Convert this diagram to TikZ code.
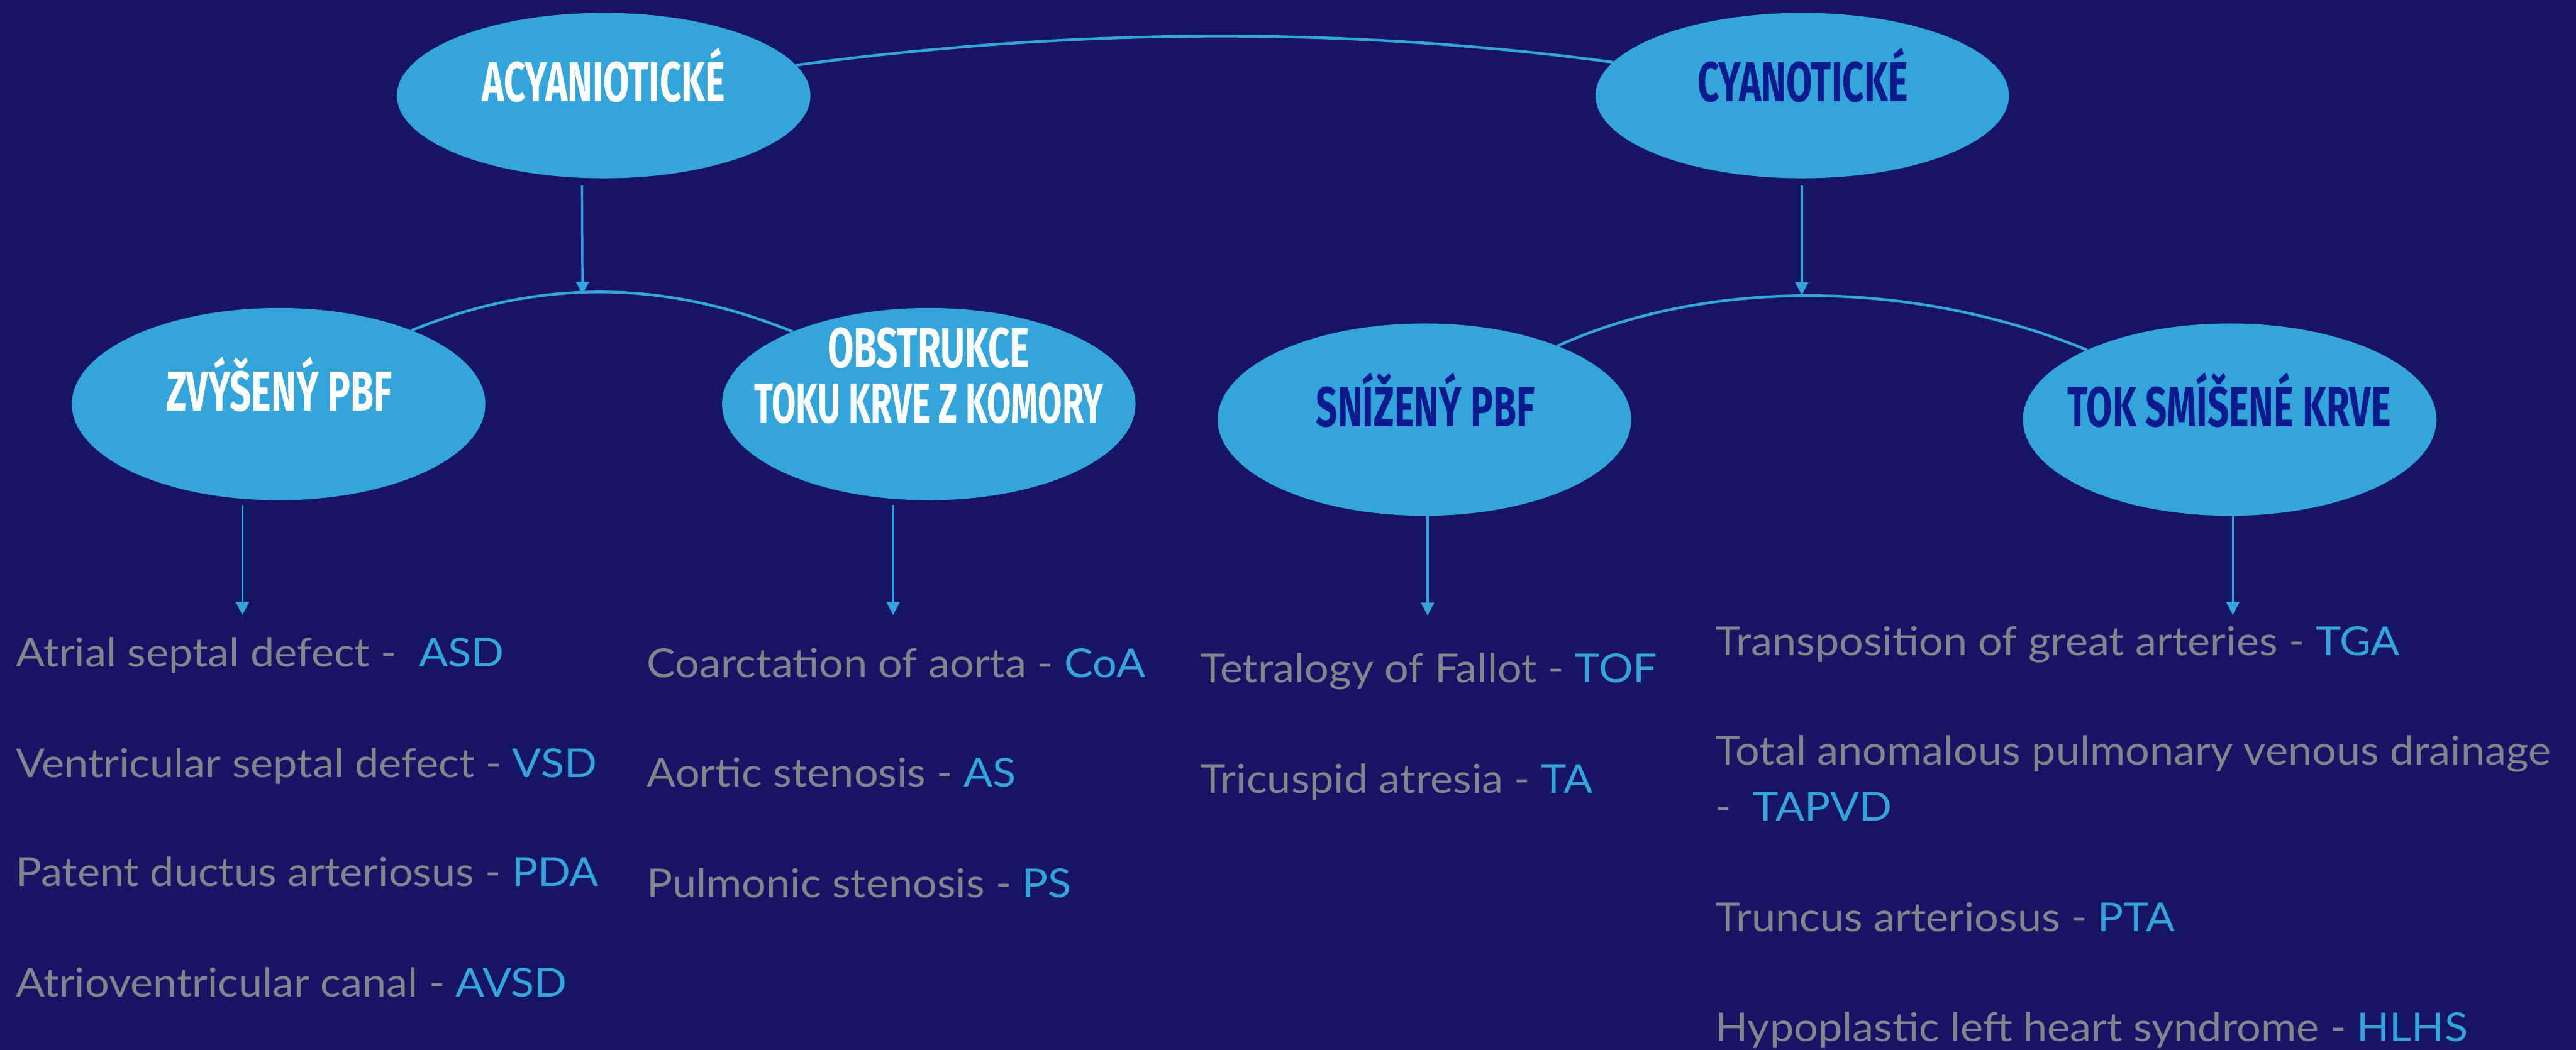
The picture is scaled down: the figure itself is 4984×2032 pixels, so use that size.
\documentclass[tikz,border=0pt]{standalone}
\usepackage{fontspec}
\setmainfont[FakeStretch=1.075]{Lato}
\newfontfamily\headfont[FakeStretch=0.67]{Fira Sans}
\newfontfamily\headnarrow[FakeStretch=0.62]{Fira Sans}
\usetikzlibrary{shapes.geometric,arrows.meta,calc}
\definecolor{bg}{HTML}{161464}
\definecolor{ellc}{HTML}{34A5DB}
\definecolor{dkb}{HTML}{0B1B8E}
\definecolor{gry}{HTML}{80868B}
\begin{document}
\begin{tikzpicture}[x=0.1mm,y=-0.1mm,
  ell/.style={ellipse,fill=ellc,draw=none,inner sep=0pt,outer sep=0pt,minimum width=8cm},
  topell/.style={ell,minimum height=3.2cm},
  lowell/.style={ell,minimum height=3.72cm},
  head/.style={font=\headfont\bfseries\fontsize{31}{37}\selectfont,anchor=base,inner sep=0pt},
  headw/.style={head,text=white},
  headd/.style={head,text=dkb},
  item/.style={font=\fontsize{22}{26}\selectfont,text=gry,anchor=base west,inner sep=0pt},
  arcline/.style={draw=ellc,line width=1.5pt},
  arr/.style={draw=ellc,line width=1.2pt,-{Triangle[length=0.25cm,width=0.25cm]}}
]
\fill[bg] (0,0) rectangle (4984,2032);
\useasboundingbox (0,0) rectangle (4984,2032);

% ellipses
\node[topell] (acy) at (1168,185) {};
\node[topell] (cya) at (3487,185) {};
\node[lowell] (zvy) at (539,782) {};
\node[lowell] (obs) at (1797,782) {};
\node[lowell] (sni) at (2756,812) {};
\node[lowell] (tok) at (4314,812) {};

% ellipse texts
\node[headw] (acyt) at (1168,197) {ACYANIOTICKÉ};
\node[headd] (cyat) at (3488,197) {CYANOTICKÉ};
\node[headw] (zvyt) at (540,795) {ZVÝŠENÝ PBF};
\node[headw] (obst1) at (1797,711) {OBSTRUKCE};
\node[headw,font=\headnarrow\bfseries\fontsize{31}{37}\selectfont] (obst2) at (1797,818) {TOKU KRVE Z KOMORY};
\node[headd] (snit) at (2758,825) {SNÍŽENÝ PBF};
\node[headd] (tokt) at (4313,825) {TOK SMÍŠENÉ KRVE};

% arcs
\draw[arcline] (acy.9) .. controls +(525,-71) and +(-525,-71) .. (cya.170);
\draw[arcline] (zvy.29) .. controls +(247,-101) and +(-247,-101) .. (obs.152);
\draw[arcline] (sni.29) .. controls +(300,-135) and +(-330,-135) .. (tok.154);

% arrows
\coordinate (j1) at (1127,570);
\coordinate (j2) at (3486,571);
\coordinate (d1) at (469,1190);
\coordinate (d2) at (1728,1190);
\coordinate (d3) at (2762,1191);
\coordinate (d4) at (4320,1190);
\draw[arr] ($(acy.south)+(-42,14)$) -- (j1);
\draw[arr] ($(cya.south)+(-1,14)$) -- (j2);
\draw[arr] ($(zvy.south)+(-70,9)$) -- (d1);
\draw[arr] ($(obs.south)+(-69,9)$) -- (d2);
\draw[arr] ($(sni.south)+(6,0)$) -- (d3);
\draw[arr] ($(tok.south)+(6,0)$) -- (d4);

% lists
\node[item] (i11) at (30,1290) {Atrial septal defect -\ \ \textcolor{ellc}{ASD}};
\node[item] (i12) at (30,1504) {Ventricular septal defect - \textcolor{ellc}{VSD}};
\node[item] (i13) at (30,1715) {Patent ductus arteriosus - \textcolor{ellc}{PDA}};
\node[item] (i14) at (30,1929) {Atrioventricular canal - \textcolor{ellc}{AVSD}};

\node[item] (i21) at (1251,1311) {Coarctation of aorta - \textcolor{ellc}{CoA}};
\node[item] (i22) at (1251,1523) {Aortic stenosis - \textcolor{ellc}{AS}};
\node[item] (i23) at (1251,1737) {Pulmonic stenosis - \textcolor{ellc}{PS}};

\node[item] (i31) at (2321,1321) {Tetralogy of Fallot - \textcolor{ellc}{TOF}};
\node[item] (i32) at (2321,1535) {Tricuspid atresia - \textcolor{ellc}{TA}};

\node[item] (i41) at (3318,1268) {Transposition of great arteries - \textcolor{ellc}{TGA}};
\node[item] (i42) at (3318,1480) {Total anomalous pulmonary venous drainage};
\node[item] (i42b) at (3318,1589) {-\ \ \textcolor{ellc}{TAPVD}};
\node[item] (i43) at (3318,1803) {Truncus arteriosus - \textcolor{ellc}{PTA}};
\node[item] (i44) at (3318,2015) {Hypoplastic left heart syndrome - \textcolor{ellc}{HLHS}};
\end{tikzpicture}
\end{document}
